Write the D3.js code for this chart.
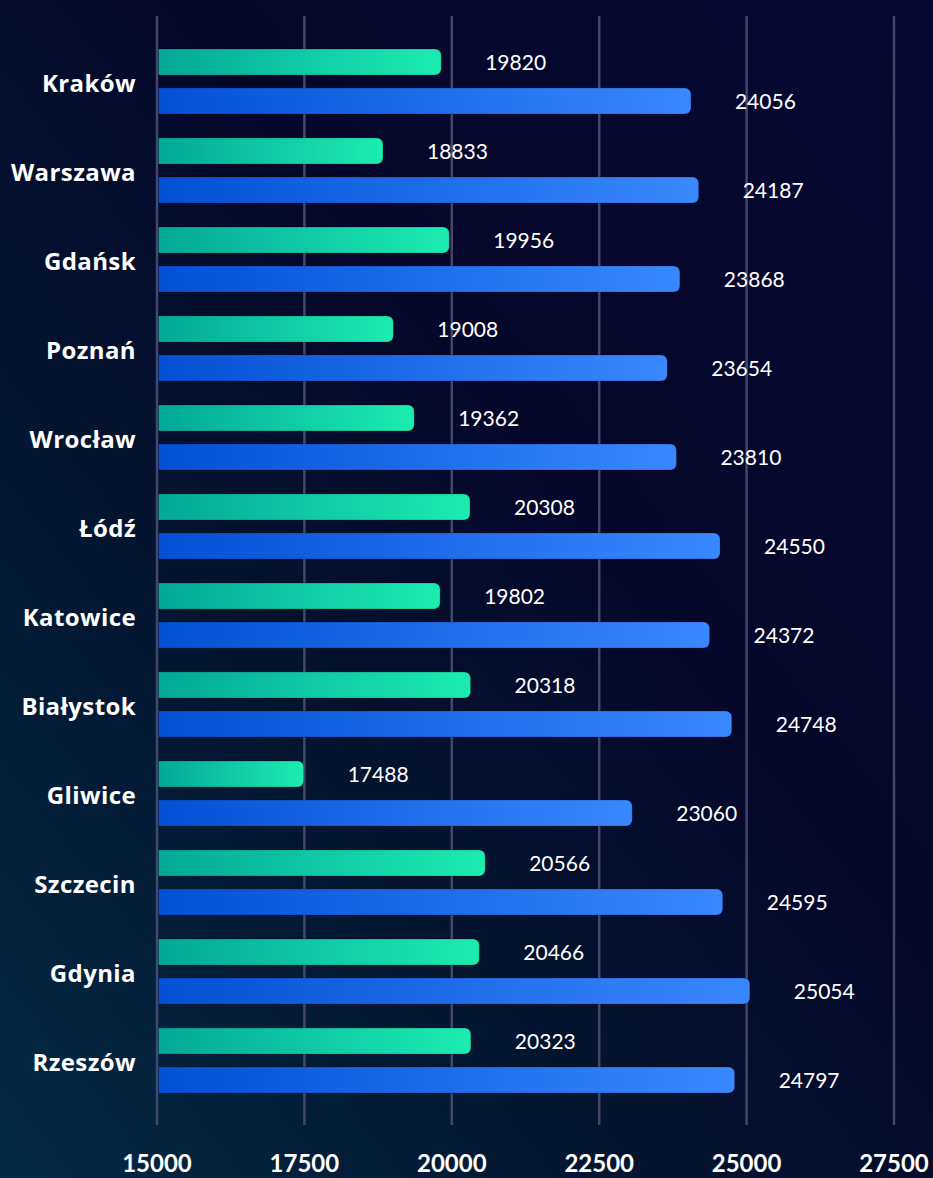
<!DOCTYPE html>
<html>
<head>
<meta charset="utf-8">
<script src="https://cdn.jsdelivr.net/npm/d3@7"></script>
<style>
  body { margin: 0; background: #05072c; }
  svg { display: block; }
</style>
</head>
<body>
<div id="chart"></div>
<script>
const width = 933;
const height = 1178;

// data
const cities = ["Kraków", "Warszawa", "Gdańsk", "Poznań", "Wrocław", "Łódź",
    "Katowice", "Białystok", "Gliwice", "Szczecin", "Gdynia", "Rzeszów"];
const greenValues = [19820, 18833, 19956, 19008, 19362, 20308, 19802, 20318, 17488, 20566, 20466, 20323];
const blueValues = [24056, 24187, 23868, 23654, 23810, 24550, 24372, 24748, 23060, 24595, 25054, 24797];
const xTicks = [15000, 17500, 20000, 22500, 25000, 27500];
const seriesKeys = ["green", "blue"];

const rows = cities.map((c, i) => ({ city: c, green: greenValues[i], blue: blueValues[i] }));

const svg = d3.select("#chart")
    .append("svg")
    .attr("width", width)
    .attr("height", height);

const defs = svg.append("defs");

const bg = defs.append("linearGradient")
    .attr("id", "bg")
    .attr("x1", 0).attr("y1", 1)
    .attr("x2", 1).attr("y2", 0);
bg.append("stop").attr("offset", 0).attr("stop-color", "#032a44");
bg.append("stop").attr("offset", 0.35).attr("stop-color", "#04142f");
bg.append("stop").attr("offset", 0.6).attr("stop-color", "#05072a");
bg.append("stop").attr("offset", 1).attr("stop-color", "#060833");

const gradColors = {
    green: ["#02a898", "#1cecb0"],
    blue: ["#0350d4", "#3a88ff"]
};
seriesKeys.forEach(k => {
    const g = defs.append("linearGradient").attr("id", "grad-" + k);
    g.append("stop").attr("offset", 0).attr("stop-color", gradColors[k][0]);
    g.append("stop").attr("offset", 1).attr("stop-color", gradColors[k][1]);
});

svg.append("rect")
    .attr("width", width)
    .attr("height", height)
    .attr("fill", "url(#bg)");

const x = d3.scaleLinear()
    .domain([15000, 27500])
    .range([157, 894]);

const y = d3.scaleBand()
    .domain(cities)
    .range([37, 1105])
    .paddingInner(24 / 89)
    .paddingOuter(12 / 89);

const ySub = d3.scaleBand()
    .domain(seriesKeys)
    .range([0, y.bandwidth()])
    .paddingInner(1 / 3);

// vertical grid
svg.append("g")
    .selectAll("line")
    .data(xTicks)
    .join("line")
    .attr("x1", d => x(d))
    .attr("x2", d => x(d))
    .attr("y1", 16)
    .attr("y2", 1125)
    .attr("stroke", "#45466c")
    .attr("stroke-width", 2.5);

// bars with rounded right end
function barPath(x0, x1, y0, h, r) {
    return `M${x0},${y0}H${x1 - r}A${r},${r} 0 0 1 ${x1},${y0 + r}V${y0 + h - r}` +
        `A${r},${r} 0 0 1 ${x1 - r},${y0 + h}H${x0}Z`;
}

const groups = svg.append("g")
    .selectAll("g")
    .data(rows)
    .join("g")
    .attr("transform", d => `translate(0,${y(d.city)})`);

const bars = groups.selectAll("g")
    .data(d => seriesKeys.map(k => ({ key: k, value: d[k] })))
    .join("g");

bars.append("path")
    .attr("d", d => barPath(x(15000) + 1.5, x(d.value), ySub(d.key), ySub.bandwidth(), 6))
    .attr("fill", d => `url(#grad-${d.key})`)
    .attr("stroke", "rgba(0,0,0,0.2)")
    .attr("stroke-width", 1);

bars.append("text")
    .attr("x", d => x(d.value) + 44)
    .attr("y", d => ySub(d.key) + ySub.bandwidth() / 2)
    .attr("dy", "0.36em")
    .attr("fill", "#ffffff")
    .style("font-family", "Lato, sans-serif")
    .style("font-size", "21px")
    .text(d => d.value);

// city labels
svg.append("g")
    .selectAll("text")
    .data(cities)
    .join("text")
    .attr("x", 136)
    .attr("y", d => y(d) + y.bandwidth() / 2 + 2)
    .attr("dy", "0.35em")
    .attr("text-anchor", "end")
    .attr("fill", "#ffffff")
    .style("font-family", "'Open Sans', sans-serif")
    .style("font-weight", 700)
    .style("font-size", "24px")
    .style("letter-spacing", "0.4px")
    .text(d => d);

// x tick labels
svg.append("g")
    .selectAll("text")
    .data(xTicks)
    .join("text")
    .attr("x", d => x(d))
    .attr("y", 1172)
    .attr("text-anchor", "middle")
    .attr("fill", "#ffffff")
    .style("font-family", "Lato, sans-serif")
    .style("font-weight", 700)
    .style("font-size", "24px")
    .text(d => d);
</script>
</body>
</html>
